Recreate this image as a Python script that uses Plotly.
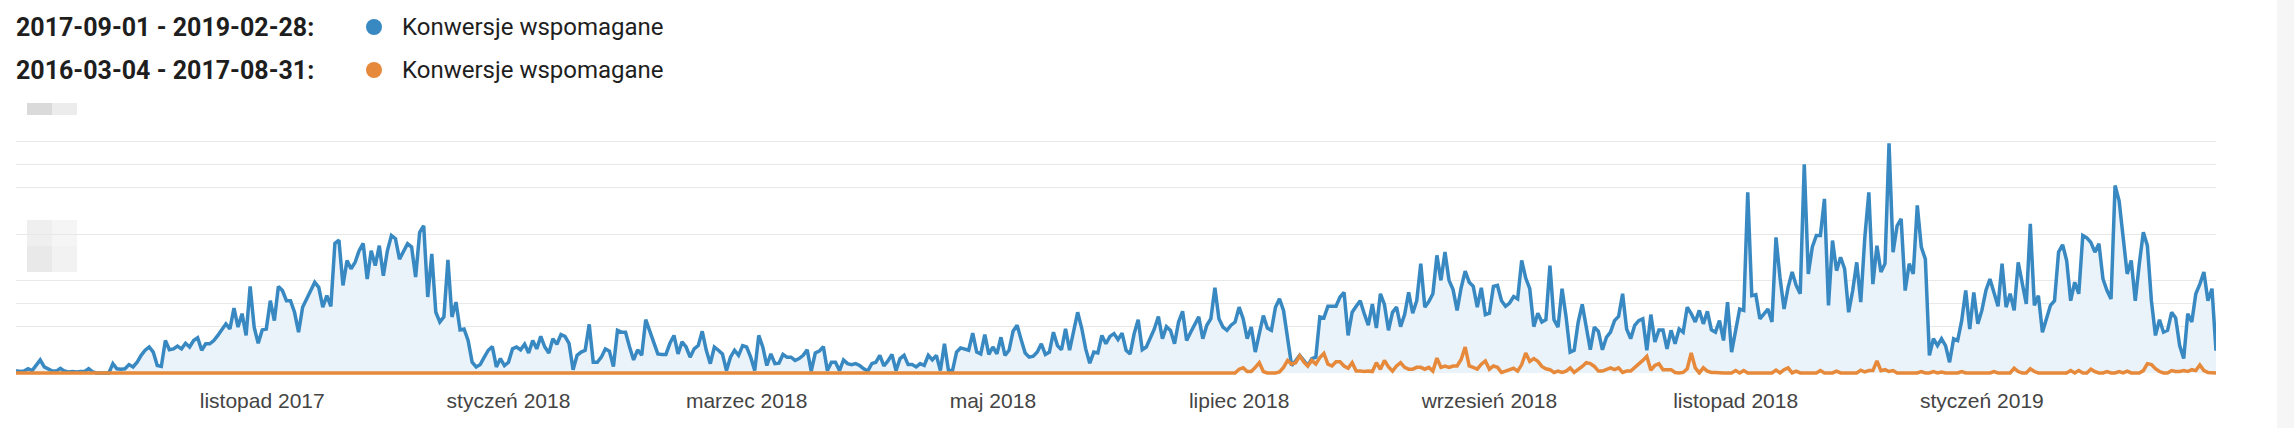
import plotly.graph_objects as go
import pandas as pd

# ---------------- data ----------------
period_current = "2017-09-01 - 2019-02-28:"
period_previous = "2016-03-04 - 2017-08-31:"
metric_name = "Konwersje wspomagane"

dates = pd.date_range("2017-09-01", "2019-02-28", freq="D")

blue = [
    0.5, 0.3, 0.4, 0.9, 0.5, 1.8, 2.8, 1.3, 0.9, 0.4,
    0.4, 1.0, 0.4, 0.2, 0.3, 0.2, 0.3, 0.3, 0.9, 0.2,
    0.0, 0.0, 0.0, 0.0, 2.0, 0.9, 0.8, 0.9, 1.8, 1.3,
    2.3, 3.8, 4.9, 5.6, 4.5, 1.6, 1.4, 7.0, 5.0, 5.2,
    5.8, 5.2, 6.4, 5.6, 7.0, 7.6, 4.9, 6.3, 6.3, 7.0,
    8.1, 9.2, 10.6, 9.5, 14.0, 9.9, 12.8, 8.1, 18.7, 9.9,
    6.4, 9.3, 9.5, 15.6, 11.3, 18.7, 17.8, 15.6, 15.6, 13.1,
    8.8, 14.2, 16.0, 18.2, 19.6, 18.5, 14.2, 16.7, 14.4, 28.0,
    28.7, 18.9, 24.3, 22.5, 23.9, 26.4, 28.0, 20.3, 26.4, 23.2,
    27.5, 21.0, 26.4, 29.7, 29.0, 24.6, 26.4, 27.9, 27.2, 20.7,
    30.4, 31.8, 16.4, 25.7, 13.1, 11.0, 12.1, 24.4, 12.1, 15.3,
    9.3, 9.5, 7.0, 2.3, 1.3, 1.8, 3.4, 4.9, 5.7, 1.3,
    3.1, 1.6, 2.3, 5.2, 5.6, 5.0, 6.2, 4.3, 7.0, 5.2,
    7.9, 5.6, 4.3, 7.4, 6.2, 8.3, 7.9, 6.4, 0.7, 3.8,
    4.5, 4.9, 10.5, 2.3, 2.3, 3.4, 5.2, 4.7, 1.4, 9.2,
    8.8, 8.8, 5.6, 2.8, 5.0, 3.8, 11.5, 9.0, 6.2, 4.1,
    4.0, 4.0, 6.4, 8.1, 4.1, 6.7, 5.6, 3.4, 5.2, 5.9,
    9.0, 4.9, 2.0, 5.6, 4.9, 4.1, 0.5, 3.4, 4.9, 3.8,
    5.9, 5.6, 3.4, 0.5, 8.1, 5.6, 1.6, 4.1, 2.0, 2.1,
    4.0, 3.4, 3.4, 2.7, 3.1, 3.8, 5.0, 0.4, 4.3, 4.7,
    5.7, 0.5, 2.3, 2.3, 0.5, 2.8, 2.0, 1.8, 2.0, 1.6,
    0.9, 0.4, 2.0, 2.3, 3.8, 1.5, 2.6, 4.0, 0.5, 3.1,
    3.8, 1.8, 1.8, 1.3, 2.0, 1.6, 3.8, 2.8, 3.8, 0.5,
    6.3, 0.5, 0.5, 4.5, 5.4, 5.1, 4.9, 8.6, 4.5, 4.1,
    8.3, 4.0, 5.6, 4.1, 7.7, 3.8, 4.9, 9.0, 10.3, 7.2,
    4.3, 3.4, 3.6, 4.5, 6.3, 4.0, 4.5, 8.8, 5.9, 5.0,
    9.5, 4.9, 8.6, 13.1, 9.7, 5.2, 2.1, 4.5, 4.3, 8.1,
    6.3, 7.9, 8.5, 7.2, 8.6, 4.9, 4.1, 8.5, 11.5, 5.0,
    5.6, 7.5, 9.5, 12.2, 7.4, 10.0, 9.2, 6.3, 11.0, 13.3,
    7.0, 8.8, 10.3, 12.1, 7.4, 10.3, 11.7, 18.4, 11.7, 9.9,
    9.2, 10.3, 11.0, 14.2, 11.7, 7.4, 9.9, 4.5, 8.5, 12.4,
    9.7, 9.2, 14.2, 16.0, 13.5, 7.4, 1.6, 2.6, 3.8, 2.7,
    1.6, 3.1, 3.4, 12.1, 11.9, 14.4, 14.4, 14.4, 16.4, 17.4,
    8.1, 13.1, 14.4, 15.6, 12.8, 10.3, 14.9, 9.7, 17.1, 14.8,
    9.2, 13.1, 14.2, 10.0, 12.6, 17.4, 12.9, 15.6, 23.6, 14.2,
    15.4, 17.1, 25.4, 20.0, 26.1, 20.0, 18.0, 13.5, 18.4, 22.0,
    19.6, 18.7, 14.2, 18.4, 12.6, 12.9, 18.7, 18.9, 15.6, 14.4,
    15.1, 16.5, 16.0, 24.3, 20.5, 18.2, 10.0, 12.9, 11.0, 11.5,
    23.2, 11.5, 9.9, 18.2, 12.1, 4.5, 4.9, 11.0, 14.8, 10.3,
    5.0, 9.9, 9.0, 5.0, 7.7, 8.8, 11.3, 12.2, 17.1, 9.5,
    7.4, 10.3, 11.3, 11.7, 4.9, 12.6, 6.7, 9.3, 9.3, 5.2,
    9.2, 6.3, 9.5, 8.8, 14.2, 12.8, 11.0, 13.5, 10.6, 13.3,
    9.3, 8.8, 11.3, 7.0, 15.3, 4.5, 9.2, 13.8, 13.5, 39.0,
    16.7, 16.9, 11.7, 12.9, 13.8, 11.0, 29.3, 20.5, 13.8, 18.5,
    21.8, 18.9, 17.1, 45.1, 21.4, 27.2, 29.7, 29.7, 37.6, 14.6,
    28.6, 22.1, 25.0, 22.5, 13.1, 17.8, 23.9, 15.3, 29.3, 39.0,
    19.2, 27.5, 21.8, 23.6, 49.6, 26.1, 31.8, 33.3, 17.8, 23.6,
    21.4, 36.2, 27.2, 24.6, 3.8, 7.4, 5.9, 7.4, 5.9, 2.3,
    7.4, 7.0, 11.3, 17.8, 9.5, 17.4, 10.6, 13.5, 17.8, 20.3,
    17.1, 14.4, 23.6, 14.2, 17.1, 13.5, 23.9, 19.6, 14.9, 32.2,
    14.6, 16.7, 8.8, 11.7, 14.6, 15.6, 26.1, 27.7, 24.3, 15.6,
    19.6, 17.1, 29.7, 29.2, 28.2, 26.1, 27.9, 20.3, 17.8, 16.0,
    40.5, 37.2, 29.0, 21.4, 24.3, 15.6, 23.6, 30.4, 27.5, 15.6,
    8.1, 11.5, 8.8, 9.2, 13.1, 11.9, 5.9, 3.1, 12.8, 11.0,
    17.1, 19.2, 21.8, 15.6, 18.2, 4.8,
]

orange = [
    0, 0, 0, 0, 0, 0, 0, 0, 0, 0, 0, 0, 0, 0, 0, 0, 0, 0, 0, 0,
    0, 0, 0, 0, 0, 0, 0, 0, 0, 0, 0, 0, 0, 0, 0, 0, 0, 0, 0, 0,
    0, 0, 0, 0, 0, 0, 0, 0, 0, 0, 0, 0, 0, 0, 0, 0, 0, 0, 0, 0,
    0, 0, 0, 0, 0, 0, 0, 0, 0, 0, 0, 0, 0, 0, 0, 0, 0, 0, 0, 0,
    0, 0, 0, 0, 0, 0, 0, 0, 0, 0, 0, 0, 0, 0, 0, 0, 0, 0, 0, 0,
    0, 0, 0, 0, 0, 0, 0, 0, 0, 0, 0, 0, 0, 0, 0, 0, 0, 0, 0, 0,
    0, 0, 0, 0, 0, 0, 0, 0, 0, 0, 0, 0, 0, 0, 0, 0, 0, 0, 0, 0,
    0, 0, 0, 0, 0, 0, 0, 0, 0, 0, 0, 0, 0, 0, 0, 0, 0, 0, 0, 0,
    0, 0, 0, 0, 0, 0, 0, 0, 0, 0, 0, 0, 0, 0, 0, 0, 0, 0, 0, 0,
    0, 0, 0, 0, 0, 0, 0, 0, 0, 0, 0, 0, 0, 0, 0, 0, 0, 0, 0, 0,
    0, 0, 0, 0, 0, 0, 0, 0, 0, 0, 0, 0, 0, 0, 0, 0, 0, 0, 0, 0,
    0, 0, 0, 0, 0, 0, 0, 0, 0, 0, 0, 0, 0, 0, 0, 0, 0, 0, 0, 0,
    0, 0, 0, 0, 0, 0, 0, 0, 0, 0, 0, 0, 0, 0, 0, 0, 0, 0, 0, 0,
    0, 0, 0, 0, 0, 0, 0, 0, 0, 0, 0, 0, 0, 0, 0, 0, 0, 0, 0, 0,
    0, 0, 0, 0, 0, 0, 0, 0, 0, 0, 0, 0, 0, 0, 0, 0, 0, 0, 0, 0,
    0, 0, 0, 0.8, 1.1, 0.3, 0.3, 1.2, 2.2, 0.3,
    0, 0, 0, 0.2, 1.2, 2.7, 1.9, 2.2, 3.7, 2.4,
    1.5, 2.7, 1.9, 3.3, 4.2, 1.9, 1.5, 2.4, 2.4, 1.5,
    1.0, 2.2, 0.4, 0.4, 0.3, 0.4, 0.3, 2.2, 0.8, 2.7,
    1.3, 0.4, 1.5, 2.2, 1.2, 0.8, 0.8, 1.2, 1.2, 0.8,
    1.2, 0.4, 3.2, 1.2, 1.5, 1.2, 1.5, 1.5, 2.9, 5.6,
    1.5, 1.2, 0.8, 1.9, 2.6, 0.8, 1.5, 1.2, 0.1, 0.4,
    0.7, 1.0, 0.4, 1.8, 4.3, 2.5, 3.1, 2.5, 1.4, 0.9,
    0.7, 0.1, 0.4, 0.1, 0.4, 1.1, 0.1, 0.7, 1.4, 2.2,
    2.0, 1.4, 0.4, 0.4, 0.7, 1.1, 0.7, 1.1, 0.1, 0.4,
    0.4, 1.1, 2.0, 2.7, 3.6, 0.6, 1.6, 2.0, 0.7, 0.7,
    0.7, 0.1, 0, 0.1, 0.9, 4.3, 1.1, 0, 1.1, 0.4,
    0.1, 0.1, 0, 0, 0, 0, 0.5, 0, 0.5, 0,
    0, 0, 0, 0, 0, 0, 0.6, 0, 0.7, 1.1,
    0, 0.4, 0, 0, 0, 0, 0, 0.5, 0, 0,
    0, 0.4, 0, 0, 0, 0, 0, 0.6, 0.2, 0.5,
    0.5, 2.6, 0.5, 0.7, 0.3, 0.5, 0, 0, 0, 0,
    0, 0, 0.3, 0, 0, 0.3, 0, 0.2, 0, 0,
    0, 0, 0.3, 0, 0, 0, 0, 0, 0, 0,
    0.3, 0, 0, 0, 0, 1.0, 0.3, 0, 0, 0.9,
    0.3, 0, 0, 0, 0, 0, 0, 0, 0, 0.5,
    0, 0.5, 0, 0, 0.8, 0.3, 0, 0, 0.3, 0,
    0, 0.3, 0, 0.4, 0, 0, 0, 0.5, 2.0, 1.8,
    0.9, 0.3, 0, 0, 0.5, 0.3, 0.3, 0.5, 0.3, 0.7,
    0.5, 1.7, 0.5, 0.1, 0, 0,
]

tick_dates = ["2017-11-01", "2018-01-01", "2018-03-01", "2018-05-01",
              "2018-07-01", "2018-09-01", "2018-11-01", "2019-01-01"]
tick_labels = ["listopad 2017", "styczeń 2018", "marzec 2018", "maj 2018",
               "lipiec 2018", "wrzesień 2018", "listopad 2018", "styczeń 2019"]
grid_values = [10, 15, 20, 30, 40, 45, 50, 60]

# ---------------- styling ----------------
W, H = 2294, 428
ML, MR, MT, MB = 16, 78, 95, 53
PW, PH = W - ML - MR, H - MT - MB

BLUE = "#3888c2"
BLUE_FILL = "#eaf2fa"
ORANGE = "#e6893a"


def px_x(px):
    return (px - ML) / PW


def px_y(py):
    return (H - MB - py) / PH


fig = go.Figure()
fig.add_trace(go.Scatter(
    x=dates, y=blue[:len(dates)], mode="lines",
    line=dict(color=BLUE, width=3.5), fill="tozeroy", fillcolor=BLUE_FILL,
    name=period_current, hoverinfo="skip"))
fig.add_trace(go.Scatter(
    x=dates, y=orange[:len(dates)], mode="lines",
    line=dict(color=ORANGE, width=3.5),
    name=period_previous, hoverinfo="skip"))

shapes = []
# blurred y-axis label region
shapes.append(dict(type="rect", xref="paper", yref="paper", layer="between",
                   x0=px_x(16), x1=px_x(77), y0=px_y(292), y1=px_y(118),
                   fillcolor="white", line=dict(width=0)))
for (x0, x1, y0, y1, c) in [(27, 52, 103, 115, "#dadada"), (52, 77, 103, 115, "#ececec"),
                            (27, 52, 220, 246, "#efefef"), (52, 77, 220, 246, "#f5f5f5"),
                            (27, 52, 246, 272, "#e9e9e9"), (52, 77, 246, 272, "#f2f2f2")]:
    shapes.append(dict(type="rect", xref="paper", yref="paper", layer="between",
                       x0=px_x(x0), x1=px_x(x1), y0=px_y(y1), y1=px_y(y0),
                       fillcolor=c, line=dict(width=0)))
# right side scrollbar band
shapes.append(dict(type="rect", xref="paper", yref="paper", layer="above",
                   x0=px_x(2277), x1=px_x(2300), y0=px_y(430), y1=px_y(-2),
                   fillcolor="#f6f6f6", line=dict(width=0)))
# legend dots
DOT_X = 374
for cy, col in [(27, BLUE), (70, ORANGE)]:
    shapes.append(dict(type="circle", xref="paper", yref="paper", layer="above",
                       x0=px_x(DOT_X - 8), x1=px_x(DOT_X + 8), y0=px_y(cy + 8), y1=px_y(cy - 8),
                       fillcolor=col, line=dict(width=0)))

annotations = []
for cy, period in [(27, period_current), (70, period_previous)]:
    annotations.append(dict(xref="paper", yref="paper", x=px_x(14), y=px_y(cy),
                            xanchor="left", yanchor="middle", showarrow=False,
                            text="<b>" + period + "</b>",
                            font=dict(family="Roboto, Arial", size=25, color="#1e1e1e")))
    annotations.append(dict(xref="paper", yref="paper", x=px_x(400), y=px_y(cy),
                            xanchor="left", yanchor="middle", showarrow=False,
                            text=metric_name,
                            font=dict(family="Roboto, Arial", size=24, color="#1e1e1e")))

fig.update_layout(
    width=W, height=H,
    margin=dict(l=ML, r=MR, t=MT, b=MB, pad=0),
    paper_bgcolor="white", plot_bgcolor="white",
    showlegend=False,
    shapes=shapes, annotations=annotations,
    xaxis=dict(type="date", range=[dates[0], dates[-1]],
               tickvals=tick_dates, ticktext=tick_labels,
               showgrid=False, zeroline=False, showline=False,
               ticks="outside", ticklen=7, tickcolor="rgba(0,0,0,0)",
               tickfont=dict(family="Liberation Sans, Arial", size=21, color="#444"),
               fixedrange=True),
    yaxis=dict(range=[-0.45, 60.05], tickvals=grid_values, showticklabels=False,
               showgrid=True, gridcolor="#e8e8e8", gridwidth=1,
               zeroline=False, showline=False, ticks="", fixedrange=True),
)

fig.write_html("out.html", config={"displayModeBar": False})
